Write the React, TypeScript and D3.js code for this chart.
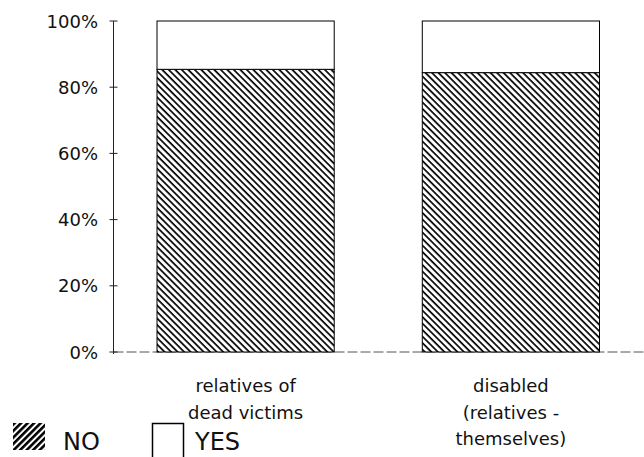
import React from "react";
import * as d3 from "d3";

const categories: string[][] = [
  ["relatives of", "dead victims"],
  ["disabled", "(relatives -", "themselves)"],
];
const noValues = [0.854, 0.844];
const yesValues = [0.146, 0.156];
const yTicks = [0, 0.2, 0.4, 0.6, 0.8, 1.0];
const legendLabels = ["NO", "YES"];

const W = 644;
const H = 457;
const FONT = "'DejaVu Sans', Verdana, sans-serif";

export default function App() {
  const axisX = 113.5;
  const x = d3
    .scaleBand<number>()
    .domain(categories.map((_, i) => i))
    .range([axisX, 643])
    .paddingInner(0.332)
    .paddingOuter(0.164);
  const y = d3.scaleLinear().domain([0, 1]).range([352, 21]);
  const fmt = d3.format(".0%");

  return (
    <svg
      width={W}
      height={H}
      style={{ position: "absolute", left: 0, top: 0, background: "#fff" }}
      fontFamily={FONT}
    >
      <defs>
        <pattern
          id="hatchBar"
          patternUnits="userSpaceOnUse"
          width={4.6}
          height={4.6}
          patternTransform="rotate(-45)"
        >
          <rect width={4.6} height={4.6} fill="#fff" />
          <line x1={1} y1={0} x2={1} y2={4.6} stroke="#000" strokeWidth={1.7} />
        </pattern>
        <pattern
          id="hatchLegend"
          patternUnits="userSpaceOnUse"
          width={4.6}
          height={4.6}
          patternTransform="rotate(45)"
        >
          <rect width={4.6} height={4.6} fill="#fff" />
          <line x1={1.3} y1={0} x2={1.3} y2={4.6} stroke="#000" strokeWidth={2.6} />
        </pattern>
      </defs>

      {/* baseline */}
      <line
        x1={axisX}
        x2={W}
        y1={y(0)}
        y2={y(0)}
        stroke="#555"
        strokeWidth={1}
        strokeDasharray="10 3"
      />

      {/* y axis */}
      <line x1={axisX} x2={axisX} y1={y(1)} y2={y(0) + 2} stroke="#222" strokeWidth={1} />
      {yTicks.map((t) => (
        <g key={t}>
          <line x1={axisX - 4} x2={axisX + 4} y1={y(t)} y2={y(t)} stroke="#222" strokeWidth={1} />
          <text
            x={98}
            y={y(t)}
            textAnchor="end"
            dominantBaseline="central"
            fontSize={18}
            fill="#111"
          >
            {fmt(t)}
          </text>
        </g>
      ))}

      {/* bars */}
      {categories.map((_, i) => {
        const bx = x(i)!;
        const bw = x.bandwidth();
        return (
          <g key={i}>
            <rect
              x={bx}
              y={y(noValues[i])}
              width={bw}
              height={y(0) - y(noValues[i])}
              fill="url(#hatchBar)"
              stroke="#000"
              strokeWidth={1}
            />
            <rect
              x={bx}
              y={y(noValues[i] + yesValues[i])}
              width={bw}
              height={y(noValues[i]) - y(noValues[i] + yesValues[i])}
              fill="#fff"
              stroke="#000"
              strokeWidth={1}
            />
          </g>
        );
      })}

      {/* category labels */}
      {categories.map((lines, i) => {
        const cx = x(i)! + x.bandwidth() / 2;
        return (
          <text key={i} textAnchor="middle" fontSize={18} fill="#111">
            {lines.map((ln, j) => (
              <tspan key={j} x={cx} y={392 + j * 26.5}>
                {ln}
              </tspan>
            ))}
          </text>
        );
      })}

      {/* legend */}
      <rect x={13} y={423} width={32} height={27} fill="url(#hatchLegend)" />
      <text x={63} y={450} fontSize={24} fill="#111">
        {legendLabels[0]}
      </text>
      <path d="M152.5,460 V423.5 H183.5 V460" fill="none" stroke="#000" strokeWidth={1.5} />
      <text x={195} y={450} fontSize={24} fill="#111">
        {legendLabels[1]}
      </text>
    </svg>
  );
}
